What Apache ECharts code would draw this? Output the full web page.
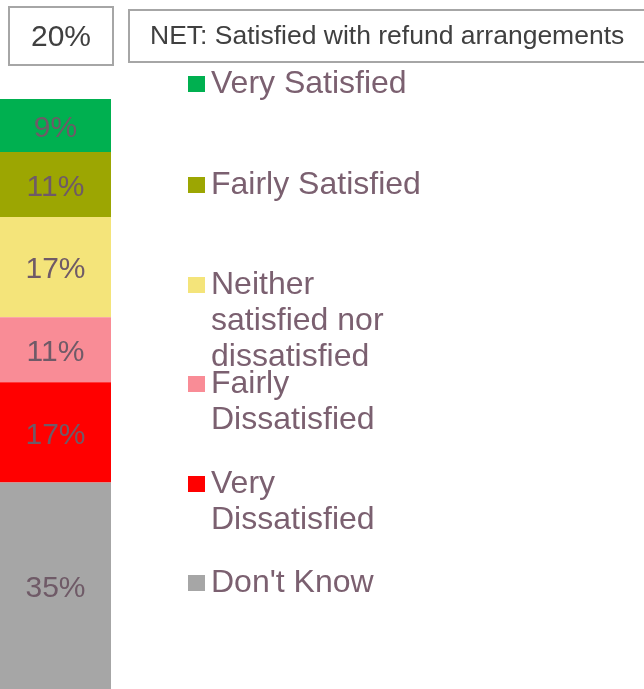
<!DOCTYPE html>
<html>
<head>
<meta charset="utf-8">
<script src="https://cdn.jsdelivr.net/npm/echarts@6/dist/echarts.min.js"></script>
<style>
  html, body { margin: 0; padding: 0; background: #fff; }
  #chart { width: 644px; height: 689px; }
</style>
</head>
<body>
<div id="chart"></div>
<script>
// Satisfaction with refund arrangements (single stacked column, % of respondents)
const categories = ['Total'];
const seriesNames = [
  'Very Satisfied',
  'Fairly Satisfied',
  'Neither satisfied nor dissatisfied',
  'Fairly Dissatisfied',
  'Very Dissatisfied',
  "Don't Know"
];
const seriesValues = [9, 11, 17, 11, 17, 35];
const seriesColors = ['#00b050', '#9ca602', '#f4e47a', '#f98c96', '#ff0000', '#a6a6a6'];
// legend labels as they wrap in the key
const legendLabels = [
  'Very Satisfied',
  'Fairly Satisfied',
  'Neither\nsatisfied nor\ndissatisfied',
  'Fairly\nDissatisfied',
  'Very\nDissatisfied',
  "Don't Know"
];
const netLabel = 'NET: Satisfied with refund arrangements';
// NET satisfied = very + fairly satisfied
const netValue = seriesValues[0] + seriesValues[1];

const FONT = '"Liberation Sans", Arial, sans-serif';
const LEGEND_LH = 36;
const ICON_H = 16;
// vertical centre of each key marker
const legendIconCentres = [84, 185, 285, 384, 484, 583];

// Legend text is centred on its marker, so blank lines are put in front of a
// wrapped label to keep its first line level with the marker.
const legends = seriesNames.map((name, i) => {
  const lines = legendLabels[i].split('\n').length;
  const label = '\n'.repeat(lines - 1) + legendLabels[i];
  const blockH = (2 * lines - 1) * LEGEND_LH;
  return {
    data: [name],
    left: 188,
    top: legendIconCentres[i] - blockH / 2,
    padding: 0,
    orient: 'vertical',
    icon: 'rect',
    itemWidth: 17,
    itemHeight: ICON_H,
    selectedMode: false,
    formatter: () => label,
    textStyle: {
      fontFamily: FONT,
      fontSize: 32,
      color: '#7b6070',
      lineHeight: LEGEND_LH,
      padding: [0, 0, 0, 1]
    }
  };
});

const chart = echarts.init(document.getElementById('chart'), null, { renderer: 'canvas' });
chart.setOption({
  animation: false,
  backgroundColor: '#ffffff',
  grid: { left: 0, top: 99, width: 111, bottom: 0, containLabel: false },
  xAxis: {
    type: 'category',
    data: categories,
    show: false
  },
  yAxis: {
    type: 'value',
    min: 0,
    max: 100,
    inverse: true,
    show: false
  },
  legend: legends,
  series: seriesNames.map((name, i) => ({
    name: name,
    type: 'bar',
    stack: 'total',
    barWidth: '100%',
    data: [seriesValues[i]],
    itemStyle: { color: seriesColors[i] },
    label: {
      show: true,
      position: 'inside',
      offset: [0, 3],
      formatter: '{c}%',
      fontFamily: FONT,
      fontSize: 30,
      color: '#6f5a67'
    }
  })),
  graphic: [
    {
      type: 'group',
      left: 8,
      top: 6,
      children: [
        { type: 'rect', shape: { x: 0, y: 0, width: 104, height: 58 },
          style: { fill: '#fff', stroke: '#a6a6a6', lineWidth: 2 } },
        { type: 'text', x: 52, y: 31,
          style: { text: netValue + '%', fontFamily: FONT, fontSize: 30, fill: '#404040',
                   align: 'center', verticalAlign: 'middle' } }
      ]
    },
    {
      type: 'group',
      left: 128,
      top: 9,
      children: [
        { type: 'rect', shape: { x: 0, y: 0, width: 530, height: 52 },
          style: { fill: '#fff', stroke: '#a6a6a6', lineWidth: 2 } },
        { type: 'text', x: 21, y: 27,
          style: { text: netLabel, fontFamily: FONT, fontSize: 26.5, fill: '#404040',
                   align: 'left', verticalAlign: 'middle' } }
      ]
    }
  ]
});
</script>
</body>
</html>
